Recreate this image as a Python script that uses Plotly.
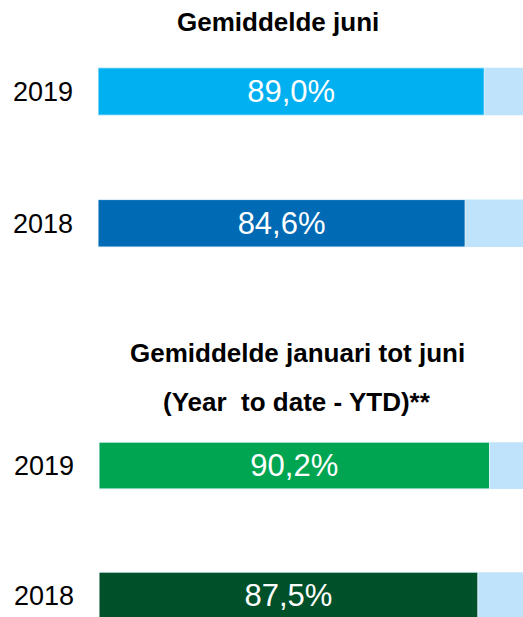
import plotly.graph_objects as go

years = ["2019", "2018"]
juni_values = [89.0, 84.6]
ytd_values = [90.2, 87.5]
full_value = [100, 100]
juni_colors = ["#00B0F0", "#006AB5"]
ytd_colors = ["#00A551", "#00502A"]
bg_color = "#BEE3FA"
title_top = "Gemiddelde juni"
title_bottom_1 = "Gemiddelde januari tot juni"
title_bottom_2 = "(Year  to date - YTD)**"

FONT = "Liberation Sans, Arial, sans-serif"
W, H = 523, 617

fig = go.Figure()

def add_group(vals, colors, xa, ya):
    fig.add_trace(go.Bar(y=years, x=full_value, orientation="h", marker=dict(color=bg_color, line=dict(width=0)),
                         width=0.36, xaxis=xa, yaxis=ya, hoverinfo="skip", showlegend=False))
    fig.add_trace(go.Bar(y=years, x=vals, orientation="h",
                         marker=dict(color=colors, line=dict(color="#E6F4FD", width=1)),
                         width=0.36, xaxis=xa, yaxis=ya, showlegend=False,
                         texttemplate="%{x:.1f}%", textposition="inside", insidetextanchor="middle",
                         textfont=dict(family=FONT, size=31, color="white"), textangle=0))

add_group(juni_values, juni_colors, "x", "y")
add_group(ytd_values, ytd_colors, "x2", "y2")

x0 = 98 / W
xmax = (W - 98) / 4.34
top_dom = [1 - 289.2 / H, 1 - 25.6 / H]
bot_dom = [0, 1 - 400 / H]

common_x = dict(range=[0, xmax], showgrid=False, zeroline=False, showticklabels=False, showline=False, fixedrange=True)
common_y = dict(type="category", showgrid=False, zeroline=False, showline=False,
                tickfont=dict(family=FONT, size=27, color="black"), ticklabelstandoff=24, ticks="")

fig.update_layout(
    width=W, height=H,
    margin=dict(l=0, r=0, t=0, b=0),
    paper_bgcolor="white", plot_bgcolor="white",
    separators=",.",
    barmode="overlay",
    font=dict(family=FONT),
    xaxis=dict(domain=[x0, 1], anchor="y", **common_x),
    yaxis=dict(domain=top_dom, anchor="x", range=[1.5, -0.5], **common_y),
    xaxis2=dict(domain=[99 / W, 1], anchor="y2", **common_x),
    yaxis2=dict(domain=bot_dom, anchor="x2", range=[1.165, -0.504], **common_y),
    annotations=[
        dict(text="<b>" + title_top + "</b>", x=278 / W, y=1 - 22 / H, xref="paper", yref="paper",
             showarrow=False, font=dict(family=FONT, size=26, color="black"), xanchor="center", yanchor="middle"),
        dict(text="<b>" + title_bottom_1 + "</b>", x=297 / W, y=1 - 353 / H, xref="paper", yref="paper",
             showarrow=False, font=dict(family=FONT, size=26, color="black"), xanchor="center", yanchor="middle"),
        dict(text="<b>" + title_bottom_2 + "</b>", x=297 / W, y=1 - 402 / H, xref="paper", yref="paper",
             showarrow=False, font=dict(family=FONT, size=26, color="black"), xanchor="center", yanchor="middle"),
    ],
)

fig.write_html("out.html",
               config={"displayModeBar": False, "staticPlot": True},
               post_script="document.body.style.margin='0';document.body.style.overflow='hidden';"
                           "document.documentElement.style.overflow='hidden';")
